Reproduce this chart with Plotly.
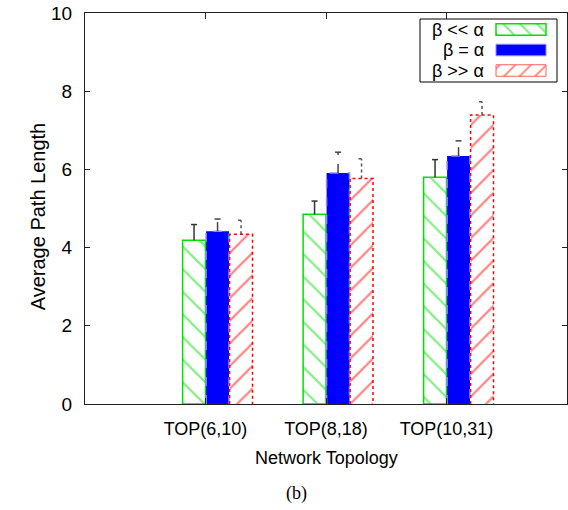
import plotly.graph_objects as go

categories = ["TOP(6,10)", "TOP(8,18)", "TOP(10,31)"]
series_names = ["β << α", "β = α", "β >> α"]
vals_low = [4.19, 4.85, 5.80]
vals_eq = [4.42, 5.91, 6.34]
vals_high = [4.34, 5.77, 7.39]
err_low = [0.40, 0.34, 0.45]
err_eq = [0.31, 0.53, 0.39]
err_high = [0.36, 0.50, 0.34]
y_ticks = [0, 2, 4, 6, 8, 10]

GREEN = "#00e000"
BLUE = "#0000ff"
RED = "#ff0000"
FONT = "Liberation Sans, Arial, sans-serif"

W = 0.19
offsets = [-0.195, 0.0, 0.195]
idx = list(range(len(categories)))

fig = go.Figure()

styles = [
    dict(color="white", pattern=dict(shape="\\", fgcolor=GREEN, bgcolor="white", size=16, solidity=0.14),
         line=dict(color=GREEN, width=1.5)),
    dict(color=BLUE, line=dict(color=BLUE, width=0)),
    dict(color="white", pattern=dict(shape="/", fgcolor=RED, bgcolor="white", size=16, solidity=0.14),
         line=dict(color=RED, width=0)),
]
all_vals = [vals_low, vals_eq, vals_high]
all_errs = [err_low, err_eq, err_high]
err_dash = ["solid", "dash", "dot"]
err_color = ["#333333", "#444444", "#555555"]

for s in range(3):
    xs = [i + offsets[s] for i in idx]
    fig.add_trace(go.Bar(x=xs, y=all_vals[s], width=W, marker=styles[s], name=series_names[s],
                         showlegend=False, xaxis="x", yaxis="y"))

# bar outlines (dashed / dotted) for blue and red
for s, dash, col in [(1, "dash", "#8c8cff"), (2, "dot", RED)]:
    ox, oy = [], []
    for i in idx:
        xc = i + offsets[s]
        v = all_vals[s][i]
        ox += [xc - W / 2, xc - W / 2, xc + W / 2, xc + W / 2, None]
        oy += [0, v, v, 0, None]
    fig.add_trace(go.Scatter(x=ox, y=oy, mode="lines", line=dict(color=col, width=1.5, dash=dash),
                             showlegend=False, hoverinfo="skip", xaxis="x", yaxis="y"))

# error bars (upper part only visible)
cap = 0.025
for s in range(3):
    ex, ey = [], []
    for i in idx:
        xc = i + offsets[s]
        v = all_vals[s][i]
        top = v + all_errs[s][i]
        ex += [xc, xc, None, xc - cap, xc + cap, None]
        ey += [v, top, None, top, top, None]
    fig.add_trace(go.Scatter(x=ex, y=ey, mode="lines",
                             line=dict(color=err_color[s], width=1.5, dash=err_dash[s]),
                             showlegend=False, hoverinfo="skip", xaxis="x", yaxis="y"))

# --- manual gnuplot-style legend on a pixel-coordinate overlay axis (plot-area pixels) ---
row_y = [16.5, 37.0, 57.5]
sw_x0, sw_len, sw_h = 411, 50, 11.5
legend_markers = [
    dict(color="white", pattern=dict(shape="\\", fgcolor=GREEN, bgcolor="white", size=12, solidity=0.17),
         line=dict(color=GREEN, width=1.5)),
    dict(color=BLUE, line=dict(color="#8c8cff", width=1)),
    dict(color="white", pattern=dict(shape="/", fgcolor=RED, bgcolor="white", size=11, solidity=0.17),
         line=dict(color="#ff6060", width=1)),
]
for s in range(3):
    fig.add_trace(go.Bar(y=[row_y[s]], x=[sw_len], base=[sw_x0], width=sw_h, orientation="h",
                         marker=legend_markers[s], showlegend=False, hoverinfo="skip",
                         xaxis="x2", yaxis="y2"))
    fig.add_annotation(x=401, y=row_y[s], xref="x2", yref="y2", text=series_names[s],
                       showarrow=False, xanchor="right", yanchor="middle",
                       font=dict(family=FONT, size=18, color="black"))

fig.add_shape(type="rect", xref="x2", yref="y2", x0=335, x1=472, y0=6, y1=69,
              line=dict(color="black", width=1), fillcolor="rgba(0,0,0,0)", layer="below")

fig.update_layout(
    width=568, height=510,
    margin=dict(l=85, r=1, t=13, b=106, autoexpand=False),
    paper_bgcolor="white", plot_bgcolor="white",
    barmode="overlay",
    showlegend=False,
    font=dict(family=FONT, size=18, color="black"),
    xaxis=dict(range=[-1.1, 2.9], tickmode="array", tickvals=[i - 0.1 for i in idx], ticktext=categories,
               ticks="inside", ticklen=6, tickcolor="#222", showline=True, linecolor="#222", linewidth=1,
               mirror="ticks", showgrid=False, zeroline=False, ticklabelstandoff=8, automargin=False,
               tickfont=dict(family=FONT, size=18)),
    yaxis=dict(range=[0, 10], tickmode="array", tickvals=y_ticks, ticks="inside", ticklen=5,
               tickcolor="#222", showline=True, linecolor="#222", linewidth=1, mirror="ticks",
               showgrid=False, zeroline=False, ticklabelstandoff=8, automargin=False,
               tickfont=dict(family=FONT, size=19)),
    xaxis2=dict(range=[0, 482], overlaying="x", visible=False, fixedrange=True, automargin=False),
    yaxis2=dict(range=[391, 0], overlaying="y", visible=False, fixedrange=True, automargin=False),
)

fig.add_annotation(x=0.5, y=-0.138, xref="paper", yref="paper", yanchor="middle",
                   text="Network Topology", showarrow=False, font=dict(family=FONT, size=18))
fig.add_annotation(x=-0.1245, y=0.48, xref="paper", yref="paper", textangle=-90,
                   text="Average Path Length", showarrow=False, font=dict(family=FONT, size=20))
fig.add_annotation(x=0.438, y=-0.228, xref="paper", yref="paper", yanchor="middle",
                   text="(b)", showarrow=False, font=dict(family="Liberation Serif, Times New Roman, serif", size=18))

fig.write_html("out.html", config={"displayModeBar": False},
               post_script="document.body.style.margin='0';document.body.style.overflow='hidden';")
